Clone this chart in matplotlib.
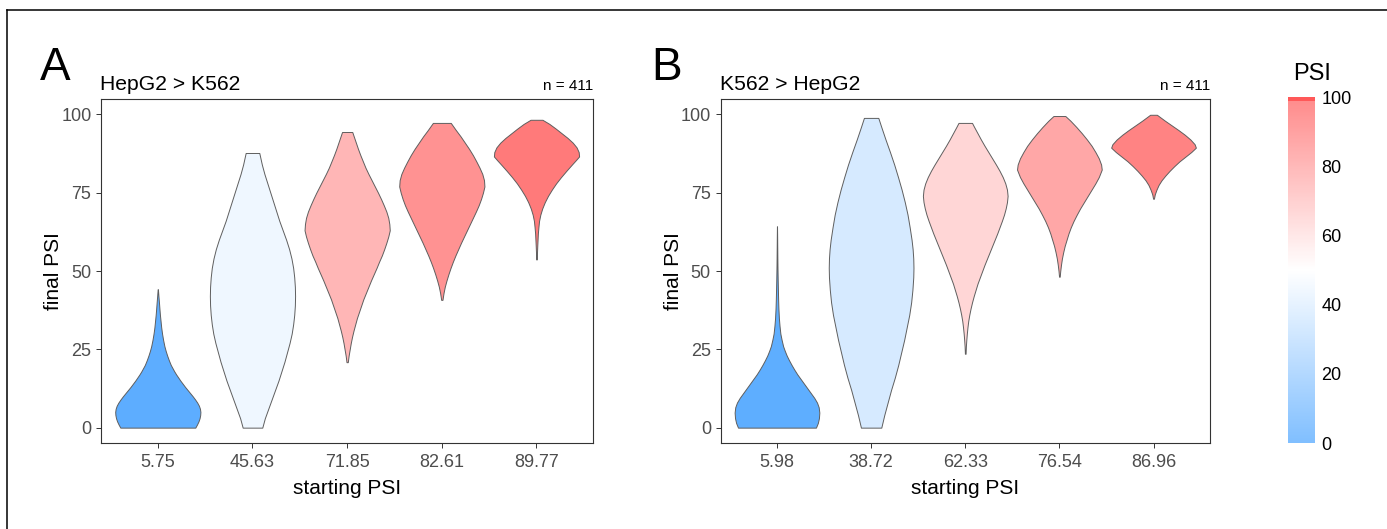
import numpy as np
import matplotlib
matplotlib.use("Agg")
import matplotlib.pyplot as plt
from matplotlib.colors import LinearSegmentedColormap, ListedColormap, Normalize
from matplotlib.cm import ScalarMappable
from matplotlib.lines import Line2D

plt.rcParams["font.family"] = ["Liberation Sans", "DejaVu Sans"]

# ---- data -------------------------------------------------------------
# Panel A: HepG2 > K562
a_labels = ["5.75", "45.63", "71.85", "82.61", "89.77"]
a_start = [5.75, 45.63, 71.85, 82.61, 89.77]
a_n = 411
# density profiles (final PSI level, relative density) for each starting-PSI bin
a1_psi = [0, 1, 2, 3, 4, 5, 6, 7, 8, 9, 10, 11, 12, 13, 14, 15, 16, 17, 18, 19, 20,
          21.5, 23, 24.5, 26, 28, 30, 32, 34, 36, 38, 40, 42, 44.2]
a1_den = [0.88, 0.92, 0.955, 0.98, 0.995, 1.0, 0.99, 0.965, 0.925, 0.875, 0.82,
          0.76, 0.70, 0.64, 0.585, 0.53, 0.48, 0.43, 0.385, 0.345, 0.305,
          0.26, 0.22, 0.185, 0.155, 0.125, 0.10, 0.08, 0.065, 0.05, 0.038, 0.027, 0.015, 0.003]
a2_psi = [0, 3, 6, 9, 12, 15, 18, 21, 24, 27, 30, 33, 36, 39, 42, 45, 48, 51, 54,
          57, 60, 63, 66, 69, 72, 75, 78, 81, 84, 87.7]
a2_den = [0.23, 0.29, 0.37, 0.45, 0.53, 0.61, 0.68, 0.75, 0.81, 0.87, 0.92, 0.955,
          0.98, 0.995, 1.0, 0.995, 0.98, 0.955, 0.915, 0.86, 0.79, 0.71, 0.63,
          0.56, 0.49, 0.42, 0.35, 0.28, 0.22, 0.16]
a3_psi = [20.9, 23, 25, 27, 29, 31, 33, 35, 37, 39, 41, 43, 45, 47, 49, 51, 53, 55,
          57, 59, 61, 63, 65, 67, 69, 71, 73, 75, 77, 79, 81, 83, 85, 87, 89, 91, 93, 94.4]
a3_den = [0.015, 0.035, 0.06, 0.085, 0.115, 0.15, 0.19, 0.23, 0.28, 0.33, 0.38,
          0.44, 0.50, 0.56, 0.625, 0.69, 0.75, 0.815, 0.87, 0.92, 0.965, 1.0,
          0.99, 0.965, 0.92, 0.86, 0.795, 0.725, 0.65, 0.575, 0.50, 0.43, 0.37,
          0.31, 0.255, 0.205, 0.155, 0.12]
a4_psi = [40.8, 43, 45, 47, 49, 51, 53, 55, 57, 59, 61, 63, 65, 67, 69, 71, 73, 75,
          77, 79, 81, 83, 85, 87, 89, 91, 93, 95, 97.3]
a4_den = [0.015, 0.04, 0.07, 0.11, 0.155, 0.205, 0.26, 0.32, 0.385, 0.45, 0.52,
          0.59, 0.66, 0.73, 0.80, 0.865, 0.92, 0.965, 1.0, 0.99, 0.95, 0.885,
          0.81, 0.73, 0.64, 0.54, 0.44, 0.33, 0.21]
a5_psi = [53.7, 56, 58, 60, 62, 64, 66, 68, 70, 72, 74, 76, 78, 80, 82, 84, 85.5,
          86.6, 88, 89.5, 91, 92.5, 94, 95.5, 97, 98.3]
a5_den = [0.005, 0.012, 0.018, 0.025, 0.032, 0.045, 0.06, 0.09, 0.135, 0.195, 0.27,
          0.36, 0.46, 0.575, 0.70, 0.83, 0.93, 1.0, 0.99, 0.94, 0.85, 0.73, 0.59,
          0.45, 0.30, 0.14]

# Panel B: K562 > HepG2
b_labels = ["5.98", "38.72", "62.33", "76.54", "86.96"]
b_start = [5.98, 38.72, 62.33, 76.54, 86.96]
b_n = 411
b1_psi = [0, 1.5, 3, 4.8, 6.5, 8, 9.5, 11, 12.5, 14, 15.5, 17, 18.5, 20, 21.5, 23,
          24.5, 26, 28, 30, 32.5, 35, 38, 41, 44, 47, 50, 54, 58, 61, 64.3]
b1_den = [0.92, 0.965, 0.99, 1.0, 0.985, 0.945, 0.88, 0.80, 0.72, 0.64, 0.56, 0.48,
          0.41, 0.345, 0.285, 0.23, 0.185, 0.145, 0.11, 0.08, 0.06, 0.045, 0.034,
          0.027, 0.022, 0.017, 0.013, 0.009, 0.006, 0.004, 0.001]
b2_psi = [0, 4, 8, 12, 16, 20, 24, 28, 32, 36, 40, 44, 48, 51, 54, 57, 60, 64, 68,
          72, 76, 80, 84, 88, 92, 96, 98.9]
b2_den = [0.24, 0.31, 0.39, 0.47, 0.56, 0.64, 0.71, 0.78, 0.84, 0.90, 0.945, 0.975,
          0.995, 1.0, 0.995, 0.98, 0.955, 0.91, 0.86, 0.795, 0.72, 0.635, 0.545,
          0.445, 0.34, 0.24, 0.17]
b3_psi = [23.6, 26, 28, 30, 32, 34, 36, 38, 40, 42, 44, 46, 48, 50, 52, 54, 56, 58,
          60, 62, 64, 66, 68, 70, 72, 74, 76, 78, 80, 82, 84, 86, 88, 90, 92, 94, 96, 97.3]
b3_den = [0.008, 0.015, 0.025, 0.037, 0.052, 0.07, 0.095, 0.125, 0.16, 0.20, 0.245,
          0.29, 0.345, 0.40, 0.455, 0.515, 0.575, 0.635, 0.695, 0.755, 0.81, 0.865,
          0.915, 0.955, 0.985, 1.0, 0.985, 0.945, 0.885, 0.81, 0.725, 0.635, 0.545,
          0.455, 0.37, 0.29, 0.21, 0.16]
b4_psi = [48.2, 50, 52, 54, 56, 58, 60, 62, 64, 66, 68, 70, 72, 74, 76, 78, 80, 82.4,
          84, 86, 88, 90, 92, 94, 96, 98, 99.5]
b4_den = [0.008, 0.02, 0.038, 0.06, 0.09, 0.125, 0.17, 0.215, 0.27, 0.335, 0.41,
          0.49, 0.58, 0.67, 0.76, 0.85, 0.93, 1.0, 0.985, 0.93, 0.85, 0.76, 0.65,
          0.53, 0.40, 0.26, 0.14]
b5_psi = [73.1, 74.5, 76, 77.5, 79, 80.5, 82, 83.5, 85, 86.5, 88, 89.4, 90.5, 92,
          93.5, 95, 96.5, 98, 99.9]
b5_den = [0.01, 0.03, 0.07, 0.12, 0.19, 0.28, 0.38, 0.49, 0.61, 0.75, 0.89, 1.0,
          0.97, 0.87, 0.74, 0.59, 0.43, 0.27, 0.08]

yticks = [0, 25, 50, 75, 100]
cbar_ticks = [0, 20, 40, 60, 80, 100]

# ---- styling ----------------------------------------------------------
W, H = 1387, 529
fig = plt.figure(figsize=(W / 100, H / 100), dpi=100)

low = np.array([73, 163, 255]) / 255
high = np.array([255, 88, 88]) / 255
fill_cmap = LinearSegmentedColormap.from_list("psi", [low, (1, 1, 1), high])
norm = Normalize(0, 100)

# legend bar: same gradient, lightened, with a saturated top cap
base = fill_cmap(np.linspace(0, 1, 256))[:, :3]
bar_rgb = 1 - 0.7 * (1 - base)
bar_rgb[-3:] = high
bar_cmap = ListedColormap(bar_rgb)

tick_grey = "#4d4d4d"
frame_grey = "#333333"
edge_grey = "#5e5e5e"


def px(x, y):
    return x / W, 1 - y / H


def draw_panel(rect, labels, start, profiles, title, n, letter, letter_x):
    ax = fig.add_axes(rect)
    stats = []
    for coords, dens in profiles:
        c = np.asarray(coords, float)
        d = np.asarray(dens, float)
        stats.append(dict(coords=c, vals=d, mean=c.mean(), median=np.median(c),
                          min=c.min(), max=c.max()))
    pos = np.arange(1, len(labels) + 1)
    parts = ax.violin(stats, positions=pos, widths=0.9, showmeans=False,
                      showextrema=False, showmedians=False)
    for body, s in zip(parts["bodies"], start):
        body.set_facecolor(fill_cmap(norm(s)))
        body.set_edgecolor(edge_grey)
        body.set_linewidth(0.7)
        body.set_alpha(1)
    ax.set_xlim(0.4, len(labels) + 0.6)
    ax.set_ylim(-5, 105)
    ax.set_xticks(pos)
    ax.set_xticklabels(labels)
    ax.set_yticks(yticks)
    for sp in ax.spines.values():
        sp.set_color(frame_grey)
        sp.set_linewidth(0.8)
    ax.tick_params(axis="both", colors=frame_grey, labelcolor=tick_grey,
                   labelsize=13, length=3.6, width=0.7)
    ax.tick_params(axis="y", pad=3.3)
    ax.tick_params(axis="x", pad=4.0)

    l, b, w, h = rect
    x0 = l * W
    x1 = (l + w) * W
    fig.text(*px(x0 - 1, 89.5), title, fontsize=15.2, ha="left", va="baseline")
    fig.text(*px(x1, 90.5), f"n = {n}", fontsize=11, ha="right", va="baseline")
    fig.text(*px(letter_x, 80), letter, fontsize=33, ha="left", va="baseline")
    fig.text(*px((x0 + x1) / 2, 494), "starting PSI", fontsize=15,
             ha="center", va="baseline")
    fig.text(*px(x0 - 47.5, 271), "final PSI", fontsize=15, rotation=90,
             ha="center", va="center")
    return ax


bottom = 1 - 443.3 / H
height = (443.3 - 98.8) / H

draw_panel([101 / W, bottom, 492.3 / W, height], a_labels, a_start,
           [(a1_psi, a1_den), (a2_psi, a2_den), (a3_psi, a3_den),
            (a4_psi, a4_den), (a5_psi, a5_den)],
           "HepG2 > K562", a_n, "A", 39.5)
draw_panel([720.5 / W, bottom, 489.5 / W, height], b_labels, b_start,
           [(b1_psi, b1_den), (b2_psi, b2_den), (b3_psi, b3_den),
            (b4_psi, b4_den), (b5_psi, b5_den)],
           "K562 > HepG2", b_n, "B", 651)

# colour legend
cax = fig.add_axes([1287.5 / W, 1 - 443 / H, 27 / W, (443 - 97) / H])
cb = fig.colorbar(ScalarMappable(norm=norm, cmap=bar_cmap), cax=cax,
                  ticks=cbar_ticks)
cb.outline.set_visible(False)
cax.tick_params(length=0, labelsize=13, pad=5, colors="black")
fig.text(*px(1293, 80), "PSI", fontsize=17, ha="left", va="baseline")

# partial frame around the figure
fx = 7 / W
fy = 1 - 9.5 / H
fig.add_artist(Line2D([fx, 1], [fy, fy], transform=fig.transFigure,
                      color="black", linewidth=1.1))
fig.add_artist(Line2D([fx, fx], [0, fy], transform=fig.transFigure,
                      color="black", linewidth=1.1))

fig.savefig("out.png", dpi=100)
